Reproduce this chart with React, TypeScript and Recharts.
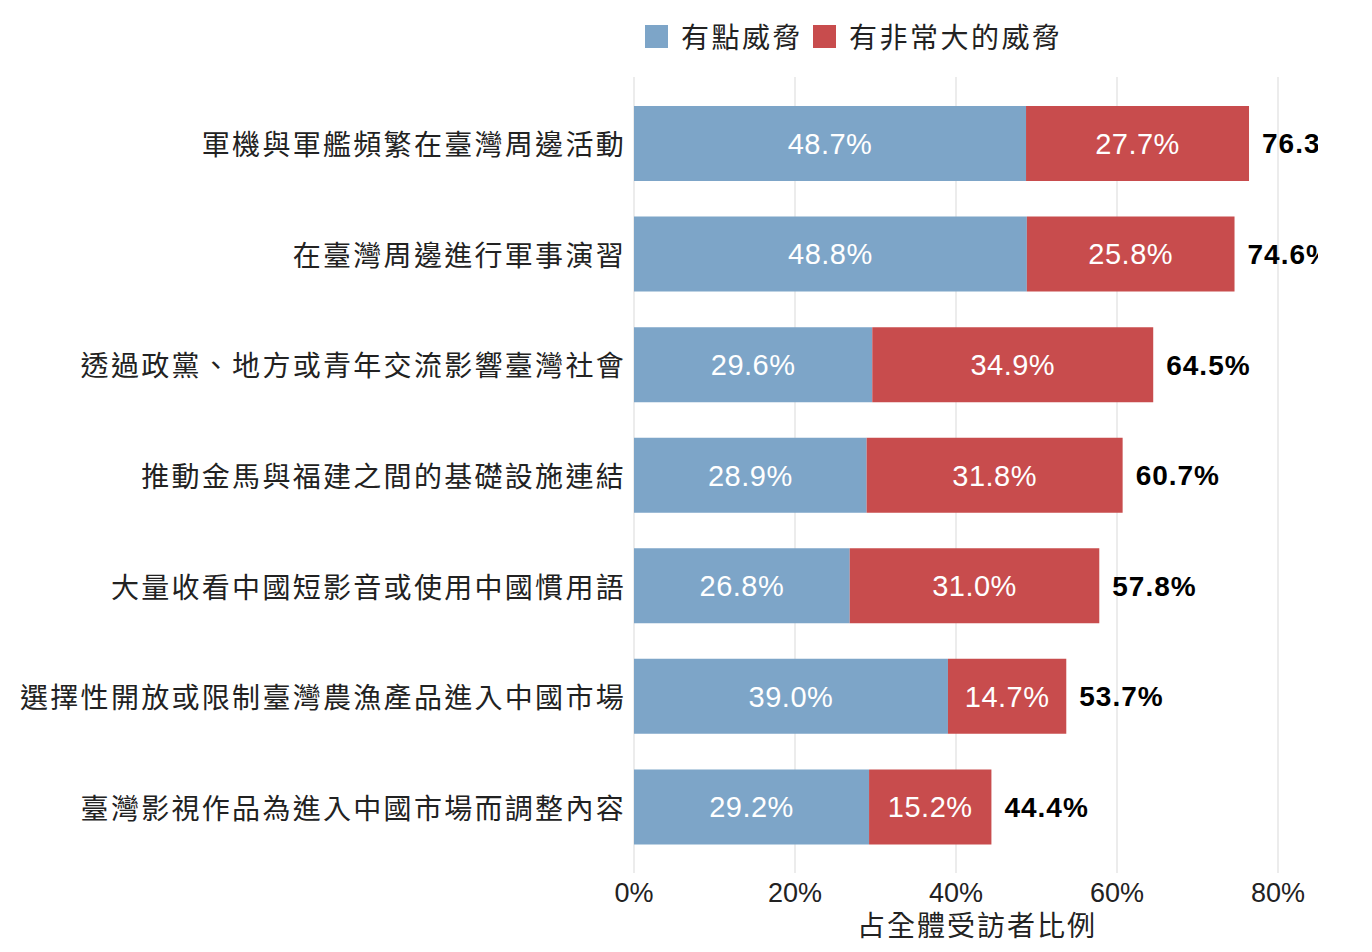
import React from "react";
import { BarChart, Bar, XAxis, YAxis, CartesianGrid, LabelList } from "recharts";

const categories = [
  "軍機與軍艦頻繁在臺灣周邊活動",
  "在臺灣周邊進行軍事演習",
  "透過政黨、地方或青年交流影響臺灣社會",
  "推動金馬與福建之間的基礎設施連結",
  "大量收看中國短影音或使用中國慣用語",
  "選擇性開放或限制臺灣農漁產品進入中國市場",
  "臺灣影視作品為進入中國市場而調整內容",
];
const somewhat = [48.7, 48.8, 29.6, 28.9, 26.8, 39.0, 29.2];
const very = [27.7, 25.8, 34.9, 31.8, 31.0, 14.7, 15.2];
const totals = [76.3, 74.6, 64.5, 60.7, 57.8, 53.7, 44.4];
const xTicks = [0, 20, 40, 60, 80];
const seriesNames = ["有點威脅", "有非常大的威脅"];
const axisTitle = "占全體受訪者比例";

const BLUE = "#7DA5C8";
const RED = "#C84C4D";
const CJK = '"Noto Sans CJK TC", "Noto Sans CJK SC", sans-serif';
const LAT = '"Liberation Sans", Arial, sans-serif';

const data = categories.map((c, i) => ({
  name: c,
  a: somewhat[i],
  b: very[i],
  total: totals[i],
}));

const pct = (v: any) => `${Number(v).toFixed(1)}%`;

const CatTick = (props: any) => {
  const { x, y, payload } = props;
  return (
    <text
      x={x}
      y={y}
      textAnchor="end"
      dominantBaseline="central"
      fontFamily={CJK}
      fontSize={28}
      letterSpacing={2.3}
      fill="#222"
    >
      {payload.value}
    </text>
  );
};

export default function App() {
  return (
    <div style={{ position: "relative", width: 1310, height: 936 }}>
      <div
        style={{
          position: "absolute",
          left: 637,
          top: 8,
          display: "flex",
          alignItems: "center",
          fontFamily: CJK,
          fontSize: 28,
          letterSpacing: 2.5,
          color: "#222",
          whiteSpace: "nowrap",
          zIndex: 2,
        }}
      >
        <span style={{ width: 23, height: 23, background: BLUE, display: "inline-block", marginRight: 13 }} />
        <span style={{ marginRight: 10 }}>{seriesNames[0]}</span>
        <span style={{ width: 23, height: 23, background: RED, display: "inline-block", marginRight: 13 }} />
        <span>{seriesNames[1]}</span>
      </div>
      <BarChart
        width={1310}
        height={936}
        data={data}
        layout="vertical"
        margin={{ top: 69, right: 40, bottom: 41, left: 0 }}
        barSize={75}
      >
        <CartesianGrid horizontal={false} stroke="#e6e6e6" strokeWidth={1.5} />
        <XAxis
          type="number"
          domain={[0, 80]}
          ticks={xTicks}
          tickFormatter={(v: any) => `${v}%`}
          axisLine={false}
          tickLine={false}
          tickSize={0}
          tickMargin={10}
          height={30}
          allowDataOverflow
          tick={{ fontFamily: LAT, fontSize: 27, fill: "#222" }}
          label={{
            value: axisTitle,
            position: "bottom",
            offset: 13,
            dx: 21,
            style: { fontFamily: CJK, fontSize: 28, fill: "#222", letterSpacing: 2 },
          }}
        />
        <YAxis
          type="category"
          dataKey="name"
          width={626}
          axisLine={false}
          tickLine={false}
          tickSize={0}
          tickMargin={8}
          padding={{ top: 11, bottom: 11 }}
          tick={<CatTick />}
          interval={0}
        />
        <Bar dataKey="a" stackId="s" fill={BLUE} isAnimationActive={false}>
          <LabelList
            dataKey="a"
            position="center"
            formatter={pct}
            style={{ fontFamily: LAT, fontSize: 29, fill: "#fff", letterSpacing: 0.5 }}
          />
        </Bar>
        <Bar dataKey="b" stackId="s" fill={RED} isAnimationActive={false}>
          <LabelList
            dataKey="b"
            position="center"
            formatter={pct}
            style={{ fontFamily: LAT, fontSize: 29, fill: "#fff", letterSpacing: 0.5 }}
          />
          <LabelList
            dataKey="total"
            position="right"
            offset={13}
            formatter={pct}
            style={{ fontFamily: LAT, fontSize: 28, fontWeight: "bold", fill: "#000", letterSpacing: 1 }}
          />
        </Bar>
      </BarChart>
    </div>
  );
}
